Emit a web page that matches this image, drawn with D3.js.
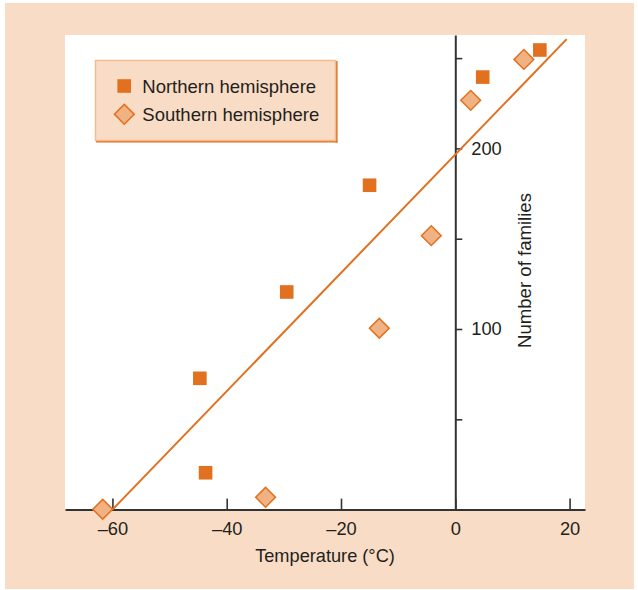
<!DOCTYPE html>
<html>
<head>
<meta charset="utf-8">
<script src="https://cdn.jsdelivr.net/npm/d3@7"></script>
<style>
  html, body { margin: 0; padding: 0; background: #ffffff; }
  svg { display: block; }
  text { font-family: 'Liberation Sans', Arial, Helvetica, sans-serif; fill: #231f20; }
</style>
</head>
<body>
<svg id="chart" width="638" height="590"></svg>
<script>
// ---- data ----
const northTemp     = [-44.7, -43.7, -29.5, -15.0, 4.8, 14.8];
const northFamilies = [72.7, 20.4, 120.5, 179.6, 239.5, 254.5];
const southTemp     = [-61.7, -33.2, -13.3, -4.2, 2.7, 12.0];
const southFamilies = [0.2, 6.8, 100.4, 151.7, 226.6, 249.3];
const fitTemp       = [-60, 19.5];
const fitFamilies   = [0, 260.5];
const xTicks        = [-60, -40, -20, 0, 20];
const yTicks        = [0, 50, 100, 150, 200, 250];
const yLabelled     = [100, 200];
const legendLabels  = ["Northern hemisphere", "Southern hemisphere"];
const xTitle = "Temperature (\u00B0C)";
const yTitle = "Number of families";

const ORANGE = "#e1701f";
const LIGHT  = "#f0b283";
const PEACH  = "#f9dcc5";
const AXIS   = "#333333";

const svg = d3.select("#chart");

// background
svg.append("rect").attr("x", 5).attr("y", 3).attr("width", 629).attr("height", 586).attr("fill", PEACH);

const x = d3.scaleLinear().domain([-68.3, 22.7]).range([65, 585]);
const y = d3.scaleLinear().domain([0, 262.8]).range([509.6, 35]);

// white panel
svg.append("rect")
  .attr("x", x.range()[0]).attr("y", y.range()[1])
  .attr("width", x.range()[1] - x.range()[0])
  .attr("height", y.range()[0] - y.range()[1])
  .attr("fill", "#ffffff");

// x axis
const fmtX = d => (d < 0 ? "\u2013" + Math.abs(d) : String(d));
const gx = svg.append("g")
  .attr("transform", `translate(0,${y(0)})`)
  .call(d3.axisBottom(x).tickValues(xTicks).tickFormat(fmtX).tickSize(-11).tickSizeOuter(0).tickPadding(12.4));
gx.select(".domain").attr("stroke", AXIS).attr("stroke-width", 2);
gx.selectAll(".tick line").attr("stroke", AXIS).attr("stroke-width", 1.6);
gx.selectAll(".tick text").attr("font-size", 18.3).attr("font-family", "'Liberation Sans', Arial, sans-serif").attr("fill", "#231f20");

// y axis (at x = 0)
const gy = svg.append("g")
  .attr("transform", `translate(${x(0)},0)`)
  .call(d3.axisRight(y).tickValues(yTicks)
    .tickFormat(d => yLabelled.includes(d) ? String(d) : "")
    .tickSize(7).tickSizeOuter(0).tickPadding(9));
gy.select(".domain").attr("stroke", AXIS).attr("stroke-width", 2);
gy.selectAll(".tick line").attr("stroke", AXIS).attr("stroke-width", 1.6);
gy.selectAll(".tick text").attr("font-size", 18.3).attr("font-family", "'Liberation Sans', Arial, sans-serif").attr("fill", "#231f20");

// axis titles
svg.append("text")
  .attr("x", 325).attr("y", 562)
  .attr("text-anchor", "middle").attr("font-size", 18.2)
  .text(xTitle);
svg.append("text")
  .attr("transform", `translate(530.5,270.5) rotate(-90)`)
  .attr("text-anchor", "middle").attr("font-size", 18.6)
  .text(yTitle);

// regression line
const fitData = fitTemp.map((t, i) => [t, fitFamilies[i]]);
svg.append("path")
  .datum(fitData)
  .attr("d", d3.line().x(d => x(d[0])).y(d => y(d[1])))
  .attr("stroke", ORANGE).attr("stroke-width", 2).attr("fill", "none");

// northern squares
const north = northTemp.map((t, i) => ({ t, v: northFamilies[i] }));
const SQ = 13.6;
svg.append("g").selectAll("rect").data(north).join("rect")
  .attr("x", d => x(d.t) - SQ / 2).attr("y", d => y(d.v) - SQ / 2)
  .attr("width", SQ).attr("height", SQ)
  .attr("fill", ORANGE);

// southern diamonds
const south = southTemp.map((t, i) => ({ t, v: southFamilies[i] }));
const DS = 14;
svg.append("g").selectAll("rect").data(south).join("rect")
  .attr("x", -DS / 2).attr("y", -DS / 2).attr("width", DS).attr("height", DS)
  .attr("transform", d => `translate(${x(d.t)},${y(d.v)}) rotate(45)`)
  .attr("fill", LIGHT).attr("stroke", ORANGE).attr("stroke-width", 1.5);

// legend
const lg = svg.append("g");
lg.append("line").attr("x1", 96).attr("y1", 141.5).attr("x2", 337.5).attr("y2", 141.5).attr("stroke", ORANGE).attr("stroke-width", 2.2);
lg.append("line").attr("x1", 336.5).attr("y1", 61).attr("x2", 336.5).attr("y2", 142.5).attr("stroke", ORANGE).attr("stroke-width", 2.2);
lg.append("rect").attr("x", 95.5).attr("y", 60.5).attr("width", 240).attr("height", 80)
  .attr("fill", PEACH).attr("stroke", "#f3bb8f").attr("stroke-width", 1.5);
lg.append("rect").attr("x", 124.2 - SQ / 2).attr("y", 86 - SQ / 2).attr("width", SQ).attr("height", SQ).attr("fill", ORANGE);
lg.append("rect").attr("x", -DS / 2).attr("y", -DS / 2).attr("width", DS).attr("height", DS)
  .attr("transform", "translate(124.3,114.3) rotate(45)")
  .attr("fill", LIGHT).attr("stroke", ORANGE).attr("stroke-width", 1.5);
lg.append("text").attr("x", 142.3).attr("y", 92.7).attr("font-size", 18.5).text(legendLabels[0]);
lg.append("text").attr("x", 142.3).attr("y", 121).attr("font-size", 18.5).text(legendLabels[1]);
</script>
</body>
</html>
